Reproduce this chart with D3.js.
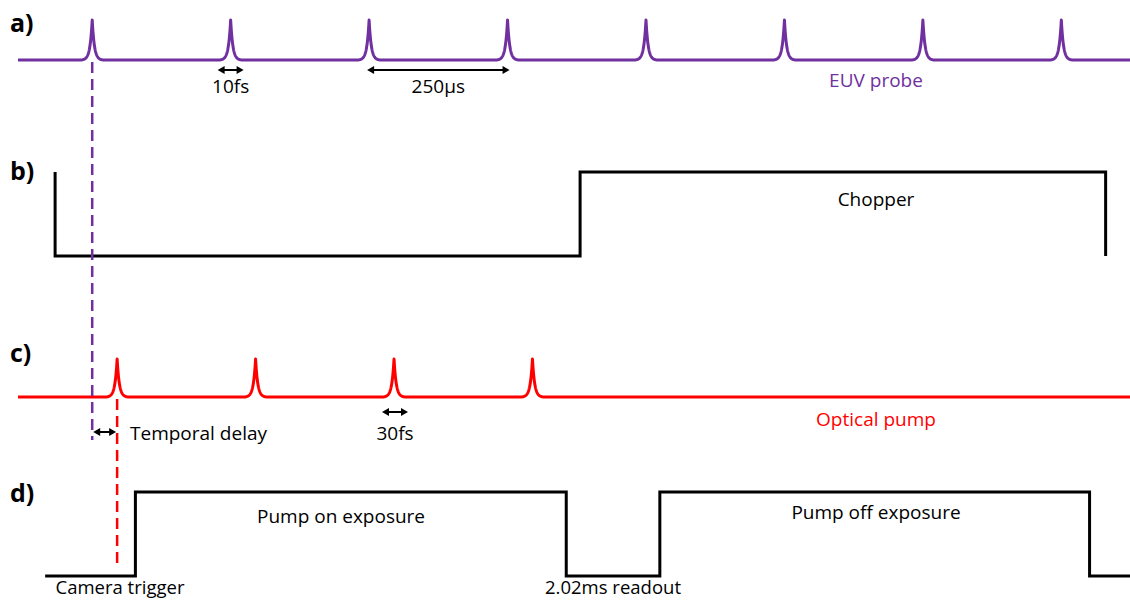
<!DOCTYPE html>
<html>
<head>
<meta charset="utf-8">
<script src="https://cdn.jsdelivr.net/npm/d3@7"></script>
<style>
  html, body { margin: 0; padding: 0; background: #fff; }
  svg { display: block; }
  text { font-family: "Open Sans", "Noto Sans", sans-serif; }
</style>
</head>
<body>
<svg id="chart" width="1130" height="600"></svg>
<script>
// Timing data (time in microseconds, t = 0 at the first EUV pulse)
const euvPulses = [0, 250, 500, 750, 1000, 1250, 1500, 1750];
const pumpPulses = [45, 295, 545, 795];
const chopperTimes = [-67, -67, 881, 1830];
const chopperLevels = [1, 0, 1, 0];
const cameraTimes = [-85, 78, 856, 1025, 1801, 1874];
const cameraLevels = [0, 1, 0, 1, 0, 0];
const panelLabels = ["a)", "b)", "c)", "d)"];

const PURPLE = "#7030a0";
const RED = "#ff0000";

const svg = d3.select("#chart");
const W = 1130;

// Shared time axis across all four traces
const x = d3.scaleLinear().domain([-134, 1874]).range([18, W]);

// One vertical level scale per trace (0 = low, 1 = high)
const yA = d3.scaleLinear().domain([0, 1]).range([60, 20]);
const yB = d3.scaleLinear().domain([0, 1]).range([256, 172]);
const yC = d3.scaleLinear().domain([0, 1]).range([397, 359]);
const yD = d3.scaleLinear().domain([0, 1]).range([576, 492]);

// Sharp cusp-shaped pulse train, sampled finely around each pulse
function pulseTrain(pulses, t0, t1) {
  const pts = [[t0, 0]];
  const halfPx = 11, tauPx = 2.2;
  const edge = Math.exp(-halfPx / tauPx);
  pulses.forEach(p => {
    const cx = x(p);
    for (let d = -halfPx; d <= halfPx + 1e-9; d += 0.25) {
      const v = (Math.exp(-Math.abs(d) / tauPx) - edge) / (1 - edge);
      pts.push([x.invert(cx + d), v]);
    }
  });
  pts.push([t1, 0]);
  return pts;
}

const [tMin, tMax] = x.domain();

// a) EUV probe pulses
svg.append("path")
  .datum(pulseTrain(euvPulses, tMin, tMax))
  .attr("d", d3.line().x(d => x(d[0])).y(d => yA(d[1])))
  .attr("fill", "none").attr("stroke", PURPLE).attr("stroke-width", 3)
  .attr("stroke-linejoin", "round");

// b) Chopper
svg.append("path")
  .datum(d3.zip(chopperTimes, chopperLevels))
  .attr("d", d3.line().curve(d3.curveStepAfter).x(d => x(d[0])).y(d => yB(d[1])))
  .attr("fill", "none").attr("stroke", "#000").attr("stroke-width", 3)
  .attr("stroke-linejoin", "miter");

// c) Optical pump pulses
svg.append("path")
  .datum(pulseTrain(pumpPulses, tMin, tMax))
  .attr("d", d3.line().x(d => x(d[0])).y(d => yC(d[1])))
  .attr("fill", "none").attr("stroke", RED).attr("stroke-width", 3)
  .attr("stroke-linejoin", "round");

// d) Camera exposure
svg.append("path")
  .datum(d3.zip(cameraTimes, cameraLevels))
  .attr("d", d3.line().curve(d3.curveStepAfter).x(d => x(d[0])).y(d => yD(d[1])))
  .attr("fill", "none").attr("stroke", "#000").attr("stroke-width", 3)
  .attr("stroke-linejoin", "miter");

// Reference dashed markers: first EUV pulse and first pump pulse
svg.append("line")
  .attr("x1", x(euvPulses[0])).attr("x2", x(euvPulses[0]))
  .attr("y1", yA(0) + 2).attr("y2", 440)
  .attr("stroke", PURPLE).attr("stroke-width", 2.5).attr("stroke-dasharray", "11,6");
svg.append("line")
  .attr("x1", x(pumpPulses[0])).attr("x2", x(pumpPulses[0]))
  .attr("y1", yC(0) + 2).attr("y2", 568)
  .attr("stroke", RED).attr("stroke-width", 2.5).attr("stroke-dasharray", "11,6");

// Double-headed arrows
function dblArrow(x1, x2, y) {
  const hl = 7, hw = 4;
  const g = svg.append("g");
  g.append("line").attr("x1", x1 + hl - 1).attr("x2", x2 - hl + 1)
    .attr("y1", y).attr("y2", y).attr("stroke", "#000").attr("stroke-width", 2);
  g.append("path").attr("d", `M${x1},${y}L${x1 + hl},${y - hw}L${x1 + hl},${y + hw}Z`).attr("fill", "#000");
  g.append("path").attr("d", `M${x2},${y}L${x2 - hl},${y - hw}L${x2 - hl},${y + hw}Z`).attr("fill", "#000");
}
dblArrow(x(euvPulses[1]) - 13, x(euvPulses[1]) + 13, 70);
dblArrow(x(euvPulses[2]) - 2, x(euvPulses[3]) + 2, 70);
dblArrow(x(euvPulses[0]) + 1, x(pumpPulses[0]) - 1, 432);
dblArrow(x(pumpPulses[2]) - 12, x(pumpPulses[2]) + 14, 412);

// Text labels
function label(txt, px, py, opts = {}) {
  svg.append("text")
    .attr("x", px).attr("y", py)
    .attr("text-anchor", opts.anchor || "middle")
    .attr("font-size", opts.size || 19)
    .attr("font-weight", opts.weight || "normal")
    .attr("fill", opts.color || "#000")
    .text(txt);
}

const panelY = [32, 180, 362, 502];
panelLabels.forEach((t, i) => label(t, 10, panelY[i], { anchor: "start", size: 25, weight: "bold" }));

label("10fs", x(euvPulses[1]), 93);
label("250µs", (x(euvPulses[2]) + x(euvPulses[3])) / 2, 93);
label("EUV probe", 876, 87, { color: PURPLE });
label("Chopper", 876, 206);
label("Temporal delay", 130, 440, { anchor: "start" });
label("30fs", x(pumpPulses[2]) + 1, 440);
label("Optical pump", 876, 426, { color: RED });
label("Pump on exposure", 341, 523);
label("Pump off exposure", 876, 519);
label("Camera trigger", 120, 594, { size: 18.5 });
label("2.02ms readout", 613, 594, { size: 18.5 });
</script>
</body>
</html>
